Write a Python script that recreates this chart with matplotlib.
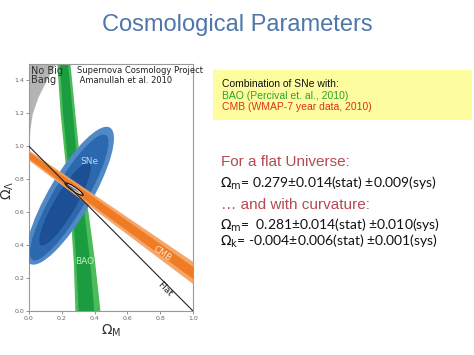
import numpy as np
import matplotlib.pyplot as plt
from matplotlib.patches import Ellipse, Rectangle

# ---- data ----
# SNe ellipses: (centre om, centre ol, semi-major, semi-minor, angle deg)
sne_outer = (0.25, 0.70, 0.48, 0.13, 59.5)
sne_mid = (0.245, 0.69, 0.44, 0.10, 59.5)
sne_inner = (0.22, 0.65, 0.29, 0.065, 59.5)
# combined SNe+BAO+CMB
comb = (0.275, 0.74, 0.066, 0.013, -33.6)

# BAO band (om edges at given ol)
bao_ol = [0.0, 0.3, 0.6, 0.8, 1.2, 1.5]
bao_out_lo = [0.28, 0.27, 0.25, 0.23, 0.19, 0.17]
bao_out_hi = [0.433, 0.40, 0.36, 0.32, 0.28, 0.25]
bao_in_lo = [0.30, 0.285, 0.265, 0.245, 0.205, 0.185]
bao_in_hi = [0.395, 0.37, 0.335, 0.30, 0.265, 0.235]

# CMB band (ol edges at given om)
cmb_om = [0.0, 1.0]
cmb_out_lo = [0.915, 0.165]
cmb_out_hi = [0.976, 0.30]
cmb_in_lo = [0.925, 0.195]
cmb_in_hi = [0.966, 0.27]

# no big bang boundary
nbb_om = [0.0, 0.005, 0.02, 0.055, 0.105, 0.16]
nbb_ol = [1.0, 1.1, 1.2, 1.3, 1.4, 1.5]

flat_om = [0.0, 1.0]
flat_ol = [1.0, 0.0]

xticks = [0.0, 0.2, 0.4, 0.6, 0.8, 1.0]
yticks = [0.0, 0.2, 0.4, 0.6, 0.8, 1.0, 1.2, 1.4]

fig = plt.figure(figsize=(4.74, 3.55), dpi=100)
ax = fig.add_axes([29/474, 1-311/355, 164/474, 247/355])

# no big bang
ax.fill_betweenx(nbb_ol, 0, nbb_om, color='#b4b4b4', lw=0, zorder=1)

# BAO
ax.fill_betweenx(bao_ol, bao_out_lo, bao_out_hi, color='#4cbb5a', lw=0, zorder=2)
ax.fill_betweenx(bao_ol, bao_in_lo, bao_in_hi, color='#1c9c40', lw=0, zorder=2)

# SNe
def ell(p, **kw):
    return Ellipse((p[0], p[1]), 2*p[2], 2*p[3], angle=p[4], **kw)

ax.add_patch(ell(sne_outer, color='#5089c6', lw=0, zorder=3))
ax.add_patch(ell(sne_mid, color='#2c68ad', lw=0, zorder=3))
ax.add_patch(ell(sne_inner, color='#1d4f94', lw=0, zorder=3))

# CMB
ax.fill_between(cmb_om, cmb_out_lo, cmb_out_hi, color='#f5a263', lw=0, alpha=0.95, zorder=4)
ax.fill_between(cmb_om, cmb_in_lo, cmb_in_hi, color='#ef7a22', lw=0, alpha=0.95, zorder=4)

# combined
ax.add_patch(ell(comb, facecolor='#9a9a9a', edgecolor='black', lw=0.7, zorder=5))
ax.add_patch(Ellipse((comb[0], comb[1]), 1.4*comb[2], 1.0*comb[3], angle=comb[4],
                     facecolor='#707070', edgecolor='white', lw=0.5, zorder=5))

ax.plot(flat_om, flat_ol, color='#222222', lw=0.8, zorder=6)

# labels inside
ax.text(0.37, 0.91, 'SNe', color='#b8d4f2', fontsize=6.5, ha='center', va='center', zorder=7)
ax.text(0.34, 0.30, 'BAO', color='#c6efc8', fontsize=6.5, ha='center', va='center', zorder=7)
ax.text(0.81, 0.35, 'CMB', color='#fde2c6', fontsize=6.5, ha='center', va='center',
        rotation=-35, zorder=7)
ax.text(0.83, 0.13, 'Flat', color='#222222', fontsize=6.5, ha='center', va='center',
        rotation=-45, zorder=7)
ax.text(0.01, 1.49, 'No Big\nBang', color='#303030', fontsize=7, ha='left', va='top',
        linespacing=0.95, zorder=7)
ax.text(0.29, 1.485, 'Supernova Cosmology Project\n Amanullah et al. 2010', color='#202020',
        fontsize=6, ha='left', va='top', linespacing=1.1, zorder=7)

ax.set_xlim(0, 1)
ax.set_ylim(0, 1.5)
ax.set_xticks(xticks)
ax.set_yticks(yticks)
ax.set_xticklabels([f'{v:.1f}' for v in xticks])
ax.set_yticklabels([f'{v:.1f}' for v in yticks])
ax.tick_params(labelsize=4.5, colors='#666666', length=2, width=0.5, pad=1.5)
for s in ax.spines.values():
    s.set_color('#999999')
    s.set_linewidth(0.8)
ax.set_xlabel(r'$\Omega_{\rm M}$', fontsize=10, color='#333333', labelpad=1)
ax.set_ylabel(r'$\Omega_\Lambda$', fontsize=10, color='#333333')
ax.yaxis.set_label_coords(-0.08, 0.49)

# slide text
fig.text(237/474, 1-25/355, 'Cosmological Parameters', color='#4f76ab', fontsize=17,
         ha='center', va='center', family='Liberation Sans')

fig.patches.append(Rectangle((213/474, 1-120/355), 259/474, 50/355, transform=fig.transFigure,
                             facecolor='#fdfd9f', edgecolor='none', zorder=0))
fig.text(222/474, 1-84/355, 'Combination of SNe with:', color='#111111', fontsize=7.5,
         ha='left', va='center', family='Liberation Sans')
fig.text(222/474, 1-96/355, 'BAO (Percival et. al., 2010)', color='#2ea12e', fontsize=7.5,
         ha='left', va='center', family='Liberation Sans')
fig.text(222/474, 1-107/355, 'CMB (WMAP-7 year data, 2010)', color='#e0301c', fontsize=7.5,
         ha='left', va='center', family='Liberation Sans')

red = '#b5494f'
fig.text(221/474, 1-162/355, 'For a flat Universe:', color=red, fontsize=11,
         ha='left', va='center', family='Liberation Sans')
fig.text(220/474, 1-183/355, r'$\Omega_{\rm m}$= 0.279±0.014(stat) ±0.009(sys)', color='#111111',
         fontsize=10, ha='left', va='center', family='Lato')
fig.text(221/474, 1-205/355, '… and with curvature:', color=red, fontsize=11,
         ha='left', va='center', family='Liberation Sans')
fig.text(220/474, 1-225/355, r'$\Omega_{\rm m}$=  0.281±0.014(stat) ±0.010(sys)', color='#111111',
         fontsize=10, ha='left', va='center', family='Lato')
fig.text(220/474, 1-241/355, r'$\Omega_{\rm k}$= -0.004±0.006(stat) ±0.001(sys)', color='#111111',
         fontsize=10, ha='left', va='center', family='Lato')

fig.savefig('out.png', dpi=100)
